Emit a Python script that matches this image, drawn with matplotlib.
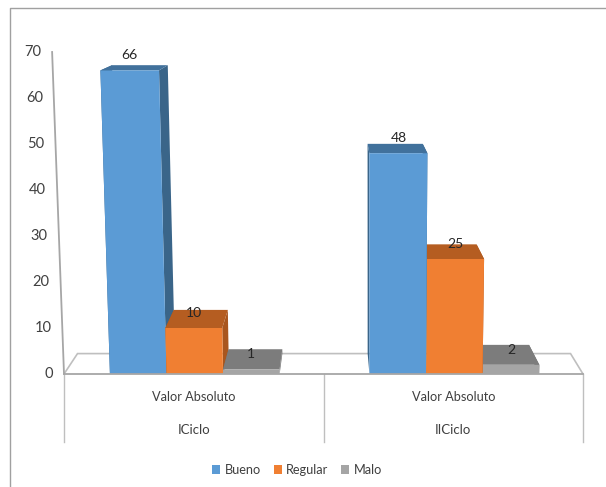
import matplotlib
matplotlib.use("Agg")
import matplotlib.pyplot as plt
from matplotlib.patches import Polygon, Patch
from matplotlib.lines import Line2D

plt.rcParams['font.family'] = ['Lato', 'DejaVu Sans']

# ---- data ----
groups = ['ICiclo', 'IICiclo']
subgroup = 'Valor Absoluto'
series = ['Bueno', 'Regular', 'Malo']
bueno = [66, 48]
regular = [10, 25]
malo = [1, 2]
yticks = [0, 10, 20, 30, 40, 50, 60, 70]

# ---- style ----
front_cols = ['#5B9BD5', '#F07F32', '#A5A5A5']
top_cols = ['#41719C', '#B55D21', '#7C7C7C']
side_cols = ['#3A6589', '#A9561E', '#6E6E6E']
TXT = '#404040'
GRID = '#BFBFBF'
W, H = 606, 487

fig = plt.figure(figsize=(W / 100, H / 100), dpi=100, facecolor='white')
L, R, T, B = 64, 583, 52, 374
ax = fig.add_axes([L / W, 1 - B / H, (R - L) / W, (B - T) / H])
ax.set_xlim(0, 2)
ax.set_ylim(0, 70)
ax.axis('off')

BW = 0.218           # bar width in category units
BAR_SHIFT = 0.004    # bars sit slightly right of the group centre
SPLAY_X = 1.19       # centre of the upward splay of the front plane
SPLAY = 0.00055
VP_X, VP_Y = 1.04, 88.7   # vanishing point of the depth direction
DEPTH = 0.05


def front(x, v):
    return (x + (x - SPLAY_X) * SPLAY * v, v)


def back(x, v):
    fx, fy = front(x, v)
    return (fx + (VP_X - fx) * DEPTH, fy + (VP_Y - fy) * DEPTH)


# floor, wall and axis lines
floor = [front(0, 0), back(0, 0), back(2, 0), front(2, 0)]
ax.add_patch(Polygon(floor, closed=False, fill=False, ec=GRID, lw=1.2, zorder=1, clip_on=False))
ax.add_line(Line2D(*zip(front(0, 0), front(0, 70)), color='#A6A6A6', lw=1.3, zorder=1, clip_on=False))

# bars, painted from the outermost towards the vanishing point
bars = []
for g in range(len(groups)):
    for s, vals in enumerate([bueno, regular, malo]):
        bars.append((g + 0.5 + BAR_SHIFT + (s - 1) * BW, s, vals[g]))
bars.sort(key=lambda b: -abs(b[0] - VP_X))
z = 2
for xc, s, v in bars:
    x0, x1 = xc - BW / 2, xc + BW / 2
    ax.add_patch(Polygon([front(x1, 0), front(x1, v), back(x1, v), back(x1, 0)], fc=side_cols[s], ec='none', zorder=z, clip_on=False))
    ax.add_patch(Polygon([front(x0, 0), front(x0, v), back(x0, v), back(x0, 0)], fc=side_cols[s], ec='none', zorder=z, clip_on=False))
    ax.add_patch(Polygon([front(x0, v), front(x1, v), back(x1, v), back(x0, v)], fc=top_cols[s], ec='none', zorder=z, clip_on=False))
    ax.add_patch(Polygon([front(x0, 0), front(x1, 0), front(x1, v), front(x0, v)], fc=front_cols[s], ec='none', zorder=z, clip_on=False))
    z += 1

# value labels
for xc, s, v in bars:
    ax.annotate(str(v), xy=front(xc, v), xytext=(0, 15 * 0.72), textcoords='offset points',
                ha='center', va='center', fontsize=10, color='#262626', zorder=30, annotation_clip=False)

# y tick labels follow the slanted wall
for t in yticks:
    ax.annotate(str(t), xy=front(0, t), xytext=(-11 * 0.72, 0), textcoords='offset points',
                ha='right', va='center', fontsize=10.5, color=TXT, annotation_clip=False)

# baseline and multi-level category axis
ax.add_line(Line2D([0, 2], [0, 0], color='#A6A6A6', lw=1.3, zorder=25, clip_on=False))
for x in [0, 1, 2]:
    ax.add_line(Line2D([x, x], [0, -68 / 4.6], color=GRID, lw=1.0, zorder=1, clip_on=False))
for g, name in enumerate(groups):
    ax.text(g + 0.5, -23 / 4.6, subgroup, ha='center', va='center', fontsize=9.2, color=TXT, clip_on=False)
    ax.text(g + 0.5, -56 / 4.6, name, ha='center', va='center', fontsize=9.5, color=TXT, clip_on=False)

# legend
handles = [Patch(fc=c, ec='none', label=n) for c, n in zip(front_cols, series)]
fig.legend(handles=handles, loc='center', bbox_to_anchor=(297 / W, 1 - 470 / H), ncol=3, frameon=False,
           fontsize=9.2, labelcolor=TXT, handlelength=0.62, handleheight=0.62, handletextpad=0.35,
           columnspacing=1.0, borderpad=0)

# picture frame: top and left only
fig.add_artist(Line2D([9.5 / W, 9.5 / W, 1], [0, 1 - 7.5 / H, 1 - 7.5 / H],
                      transform=fig.transFigure, color='#A0A0A0', lw=1.0))

fig.savefig('out.png', dpi=100, facecolor='white')
